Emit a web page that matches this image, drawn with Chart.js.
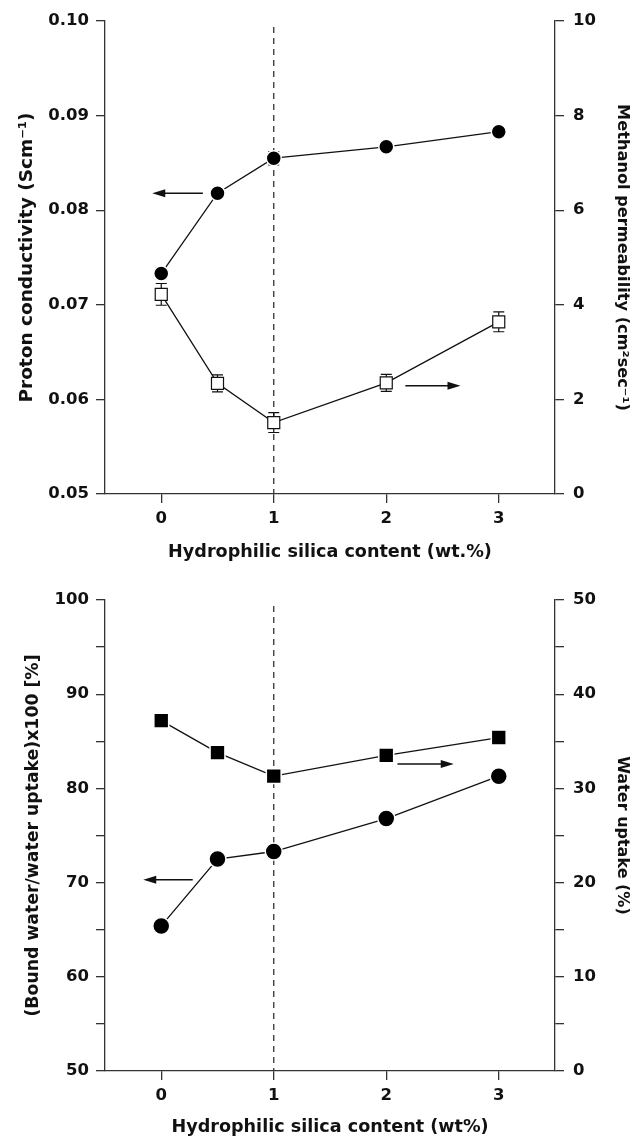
<!DOCTYPE html>
<html>
<head>
<meta charset="utf-8">
<script src="https://cdn.jsdelivr.net/npm/chart.js@4.4.1/dist/chart.umd.min.js"></script>
<style>
  body { margin: 0; background: #fff; }
  canvas { display: block; }
</style>
</head>
<body>
<canvas id="topChart" width="632" height="568"></canvas>
<canvas id="bottomChart" width="632" height="570"></canvas>
<script>
// silica content (wt.%)
const silica = [0, 0.5, 1, 2, 3];
const xTicks = [0, 1, 2, 3];

// top panel
const conductivity = [0.0733, 0.0818, 0.0855, 0.0867, 0.0883];
const conductivityErr = [0.0006, 0.0004, 0.0007, 0.0004, 0.0004];
const permeability = [4.22, 2.34, 1.51, 2.35, 3.64];
const permeabilityErr = [0.23, 0.18, 0.21, 0.18, 0.21];

// bottom panel
const boundRatio = [65.4, 72.5, 73.3, 76.8, 81.3];
const waterUptake = [37.2, 33.8, 31.3, 33.5, 35.4];

// arrows pointing at the axis each series belongs to (data units)
const topArrows = [
  { axis: 'y', from: [0.37, 0.0818], to: [-0.08, 0.0818] },
  { axis: 'y2', from: [2.17, 2.29], to: [2.66, 2.29] }
];
const bottomArrows = [
  { axis: 'y', from: [0.28, 70.3], to: [-0.16, 70.3] },
  { axis: 'y2', from: [2.10, 32.6], to: [2.60, 32.6] }
];

const FONT = "'DejaVu Sans', 'Liberation Sans', sans-serif";
const INK = '#111';
const AXIS = '#333';

const pts = (ys) => silica.map((x, i) => ({ x: x, y: ys[i] }));

const extras = {
  id: 'extras',
  beforeDatasetsDraw(chart, args, opts) {
    const ctx = chart.ctx;
    const xs = chart.scales.x;
    const area = chart.chartArea;
    ctx.save();
    // dashed marker line
    const px = xs.getPixelForValue(opts.dashedX);
    ctx.strokeStyle = AXIS;
    ctx.lineWidth = 1.3;
    ctx.setLineDash([6, 5]);
    ctx.beginPath();
    ctx.moveTo(px, area.top + 6);
    ctx.lineTo(px, area.bottom);
    ctx.stroke();
    ctx.setLineDash([]);
    // error bars
    chart.data.datasets.forEach((ds, di) => {
      if (!ds.errors) return;
      const meta = chart.getDatasetMeta(di);
      const ys = chart.scales[ds.yAxisID];
      ctx.strokeStyle = INK;
      ctx.lineWidth = 1.2;
      meta.data.forEach((p, i) => {
        const v = ds.data[i].y;
        const hi = ys.getPixelForValue(v + ds.errors[i]);
        const lo = ys.getPixelForValue(v - ds.errors[i]);
        ctx.beginPath();
        ctx.moveTo(p.x, hi); ctx.lineTo(p.x, lo);
        ctx.moveTo(p.x - 5.5, hi); ctx.lineTo(p.x + 5.5, hi);
        ctx.moveTo(p.x - 5.5, lo); ctx.lineTo(p.x + 5.5, lo);
        ctx.stroke();
      });
    });
    ctx.restore();
  },
  afterDatasetsDraw(chart, args, opts) {
    const ctx = chart.ctx;
    const xs = chart.scales.x;
    ctx.save();
    ctx.strokeStyle = INK;
    ctx.fillStyle = INK;
    ctx.lineWidth = 1.5;
    opts.arrows.forEach(a => {
      const ys = chart.scales[a.axis];
      const x1 = xs.getPixelForValue(a.from[0]), y1 = ys.getPixelForValue(a.from[1]);
      const x2 = xs.getPixelForValue(a.to[0]), y2 = ys.getPixelForValue(a.to[1]);
      const dir = Math.sign(x2 - x1);
      ctx.beginPath();
      ctx.moveTo(x1, y1);
      ctx.lineTo(x2 - dir * 10, y2);
      ctx.stroke();
      ctx.beginPath();
      ctx.moveTo(x2, y2);
      ctx.lineTo(x2 - dir * 13, y2 - 4);
      ctx.lineTo(x2 - dir * 13, y2 + 4);
      ctx.closePath();
      ctx.fill();
    });
    ctx.restore();
  }
};

function yAxis(pos, min, max, step, fmt, title, titleSize, titlePad, width) {
  return {
    type: 'linear',
    position: pos,
    min: min,
    max: max,
    afterFit(s) { s.width = width; },
    ticks: {
      stepSize: step,
      padding: pos === 'left' ? 7 : 9,
      color: INK,
      font: { family: FONT, size: 16.5, weight: 'bold' },
      callback: fmt
    },
    grid: { display: true, drawOnChartArea: false, drawTicks: true, tickLength: 9, color: AXIS, lineWidth: 1.3 },
    border: { display: true, color: AXIS, width: 1.3 },
    title: {
      display: true,
      text: title,
      color: INK,
      padding: { top: titlePad, bottom: 0 },
      font: { family: FONT, size: titleSize, weight: 'bold' }
    }
  };
}

function xAxis(title, height, titlePad) {
  return {
    type: 'linear',
    min: -0.5,
    max: 3.5,
    afterFit(s) { s.height = height; },
    afterBuildTicks(s) { s.ticks = xTicks.map(v => ({ value: v })); },
    ticks: {
      padding: 6,
      color: INK,
      font: { family: FONT, size: 16.5, weight: 'bold' }
    },
    grid: { display: true, drawOnChartArea: false, drawTicks: true, tickLength: 9, color: AXIS, lineWidth: 1.3 },
    border: { display: true, color: AXIS, width: 1.3 },
    title: {
      display: true,
      text: title,
      color: INK,
      padding: { top: 0, bottom: titlePad },
      font: { family: FONT, size: 17.6, weight: 'bold' }
    }
  };
}

new Chart(document.getElementById('topChart'), {
  type: 'line',
  data: {
    datasets: [{
      label: 'Proton conductivity',
      data: pts(conductivity),
      errors: conductivityErr,
      yAxisID: 'y',
      borderColor: INK,
      borderWidth: 1.3,
      pointStyle: 'circle',
      pointRadius: 7.5,
      pointBackgroundColor: '#000',
      pointBorderColor: '#fff',
      pointBorderWidth: 1.5
    }, {
      label: 'Methanol permeability',
      data: pts(permeability),
      errors: permeabilityErr,
      yAxisID: 'y2',
      borderColor: INK,
      borderWidth: 1.3,
      pointStyle: 'rect',
      pointRadius: 8.5,
      pointBackgroundColor: '#fff',
      pointBorderColor: INK,
      pointBorderWidth: 1.2
    }]
  },
  options: {
    responsive: false,
    animation: false,
    layout: { padding: { top: 21, left: 0, right: 0, bottom: 0 } },
    plugins: {
      legend: { display: false },
      tooltip: { enabled: false },
      extras: { dashedX: 1, arrows: topArrows }
    },
    scales: {
      x: xAxis('Hydrophilic silica content (wt.%)', 74, 5),
      y: yAxis('left', 0.05, 0.10, 0.01, v => v.toFixed(2), 'Proton conductivity (Scm\u207B\u00B9)', 18.5, 16, 105),
      y2: yAxis('right', 0, 10, 2, v => v, 'Methanol permeability (cm\u00B2sec\u207B\u00B9)', 16.2, 0, 77)
    }
  },
  plugins: [extras]
});

new Chart(document.getElementById('bottomChart'), {
  type: 'line',
  data: {
    datasets: [{
      label: 'Bound water / water uptake',
      data: pts(boundRatio),
      yAxisID: 'y',
      borderColor: INK,
      borderWidth: 1.3,
      pointStyle: 'circle',
      pointRadius: 8.5,
      pointBackgroundColor: '#000',
      pointBorderColor: '#fff',
      pointBorderWidth: 1.5
    }, {
      label: 'Water uptake',
      data: pts(waterUptake),
      yAxisID: 'y2',
      borderColor: INK,
      borderWidth: 1.3,
      pointStyle: 'rect',
      pointRadius: 10.5,
      pointBackgroundColor: '#000',
      pointBorderColor: '#fff',
      pointBorderWidth: 1.5
    }]
  },
  options: {
    responsive: false,
    animation: false,
    layout: { padding: { top: 32, left: 0, right: 0, bottom: 0 } },
    plugins: {
      legend: { display: false },
      tooltip: { enabled: false },
      extras: { dashedX: 1, arrows: bottomArrows }
    },
    scales: {
      x: xAxis('Hydrophilic silica content (wt%)', 67, 0),
      y: yAxis('left', 50, 100, 5, v => (v % 10 === 0 ? v : ''), '(Bound water/water uptake)x100 [%]', 17.3, 23, 105),
      y2: yAxis('right', 0, 50, 5, v => (v % 10 === 0 ? v : ''), 'Water uptake (%)', 16, 0, 77)
    }
  },
  plugins: [extras]
});
</script>
</body>
</html>
